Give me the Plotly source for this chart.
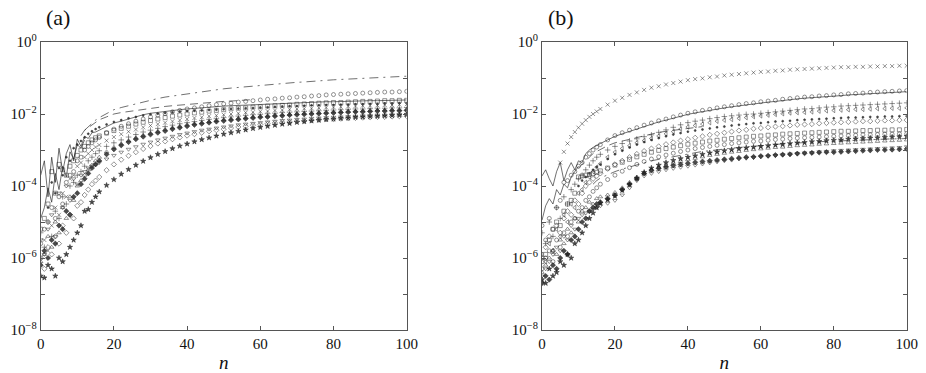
import plotly.graph_objects as go

# n grid: every step up to 15, then every second step
N = list(range(0, 16)) + list(range(16, 101, 2))

# values are log10 of the plotted quantity
# ---------- panel (a) ----------
a_dashdot = [None] * 12 + [-2.45, -2.35, -2.25, -2.17,
    -2.10, -1.99, -1.88,
    -1.82, -1.77, -1.71, -1.66, -1.60,
    -1.57, -1.53, -1.50, -1.47, -1.43,
    -1.40, -1.38, -1.35, -1.33, -1.30,
    -1.28, -1.26, -1.24, -1.22, -1.20,
    -1.18, -1.17, -1.15, -1.14, -1.12,
    -1.11, -1.09, -1.08, -1.06, -1.05,
    -1.04, -1.03, -1.02, -1.01, -1.00,
    -0.99, -0.98, -0.97, -0.96, -0.95]
a_dashed = [None] * 11 + [-2.60, -2.45, -2.38, -2.30, -2.22,
    -2.16, -2.08, -2.00,
    -1.96, -1.93, -1.89, -1.86, -1.83,
    -1.81, -1.79, -1.77, -1.75, -1.73,
    -1.71, -1.70, -1.68, -1.67, -1.65,
    -1.64, -1.63, -1.61, -1.60] + [None] * 21
a_solid1 = [-3.70, -3.30, -4.30, -3.20, -3.90, -2.95, -3.60, -3.10, -2.85, -3.30, -2.70, -2.90, -2.62, -2.68, -2.52, -2.50,
    -2.45, -2.35, -2.25,
    -2.20, -2.14, -2.07, -2.02, -1.98,
    -1.95, -1.93, -1.90, -1.88, -1.86,
    -1.84, -1.83, -1.81, -1.80, -1.78,
    -1.77, -1.76, -1.75, -1.74, -1.73,
    -1.72, -1.71, -1.70, -1.70, -1.69,
    -1.68, -1.68, -1.67, -1.66, -1.66,
    -1.65, -1.65, -1.64, -1.64, -1.63,
    -1.63, -1.62, -1.62, -1.61, -1.61]
a_solid2 = [-4.90, -4.60, -4.05, -4.45, -3.65, -4.10, -3.45, -3.75, -3.05, -3.25, -2.85, -2.95, -2.72] + [None] * 46
a_circ = [-5.60, -5.20, -5.00, -4.60, -4.90, -4.30, -4.50, -3.90, -3.70, -3.60, -3.30, -3.20, -3.00, -2.90, -2.80, -2.72,
    -2.65, -2.52, -2.42,
    -2.34, -2.27, -2.20, -2.14, -2.08,
    -2.03, -1.99, -1.94, -1.90, -1.86,
    -1.83, -1.80, -1.77, -1.74, -1.72,
    -1.70, -1.67, -1.65, -1.63, -1.61,
    -1.59, -1.58, -1.56, -1.55, -1.53,
    -1.52, -1.50, -1.49, -1.47, -1.46,
    -1.45, -1.44, -1.43, -1.42, -1.41,
    -1.40, -1.39, -1.39, -1.38, -1.37]
a_sq = [-5.20, -4.90, -4.50, -3.60, -4.20, -3.40, -3.55, -3.70, -3.45, -3.30, -3.15, -3.00, -2.90, -2.80, -2.72, -2.66,
    -2.61, -2.53, -2.46,
    -2.40, -2.34, -2.28, -2.23, -2.18,
    -2.14, -2.10, -2.06, -2.03, -2.00,
    -1.97, -1.95, -1.92, -1.90, -1.88,
    -1.86, -1.84, -1.83, -1.81, -1.80,
    -1.78, -1.77, -1.76, -1.75, -1.73,
    -1.72, -1.71, -1.70, -1.69, -1.68,
    -1.68, -1.67, -1.66, -1.65, -1.65,
    -1.64, -1.63, -1.63, -1.62, -1.62]
a_dot = [None, None, -4.60, -3.90, -4.20, -3.50, -3.70, -3.20, -3.30, -2.95, -2.85, -2.75, -2.65, -2.55, -2.48, -2.42,
    -2.37, -2.29, -2.22,
    -2.17, -2.12, -2.08, -2.04, -2.01,
    -1.99, -1.97, -1.95, -1.93, -1.92,
    -1.91, -1.90, -1.89, -1.88, -1.87,
    -1.86, -1.85, -1.84, -1.83, -1.82,
    -1.81, -1.80, -1.79, -1.78, -1.78,
    -1.77, -1.76, -1.76, -1.75, -1.75,
    -1.74, -1.74, -1.73, -1.73, -1.72,
    -1.72, -1.71, -1.71, -1.70, -1.70]
a_x = [-6.00, -5.50, -5.80, -5.10, -4.60, -4.80, -4.20, -4.30, -3.80, -3.70, -3.45, -3.35, -3.20, -3.10, -3.00, -2.92,
    -2.86, -2.74, -2.64,
    -2.56, -2.49, -2.43, -2.37, -2.32,
    -2.28, -2.24, -2.20, -2.17, -2.14,
    -2.11, -2.09, -2.06, -2.04, -2.02,
    -2.00, -1.98, -1.96, -1.95, -1.93,
    -1.92, -1.90, -1.89, -1.87, -1.86,
    -1.85, -1.84, -1.83, -1.82, -1.81,
    -1.80, -1.79, -1.78, -1.77, -1.77,
    -1.76, -1.75, -1.75, -1.74, -1.73]
a_plus = [-5.30, -5.70, -5.00, -5.40, -4.70, -4.90, -4.30, -4.50, -4.00, -3.90, -3.70, -3.60, -3.45, -3.30, -3.20, -3.10,
    -3.02, -2.90, -2.80,
    -2.72, -2.64, -2.57, -2.50, -2.45,
    -2.40, -2.35, -2.31, -2.27, -2.24,
    -2.21, -2.18, -2.15, -2.13, -2.10,
    -2.08, -2.06, -2.04, -2.02, -2.01,
    -1.99, -1.98, -1.96, -1.95, -1.94,
    -1.93, -1.92, -1.91, -1.90, -1.89,
    -1.88, -1.87, -1.86, -1.86, -1.85,
    -1.84, -1.84, -1.83, -1.83, -1.82]
a_tri = [-6.10, -5.90, -5.40, -5.70, -5.00, -5.30, -4.60, -4.90, -4.30, -4.40, -4.00, -3.85, -3.70, -3.55, -3.42, -3.30,
    -3.20, -3.05, -2.93,
    -2.83, -2.74, -2.66, -2.59, -2.53,
    -2.48, -2.43, -2.38, -2.34, -2.30,
    -2.27, -2.24, -2.21, -2.18, -2.16,
    -2.14, -2.12, -2.10, -2.08, -2.06,
    -2.05, -2.03, -2.02, -2.01, -1.99,
    -1.98, -1.97, -1.96, -1.95, -1.94,
    -1.93, -1.92, -1.92, -1.91, -1.90,
    -1.89, -1.89, -1.88, -1.88, -1.87]
a_fdia = [-6.20, -5.80, -6.00, -5.50, -5.60, -5.10, -5.20, -4.70, -4.80, -4.30, -4.20, -3.95, -3.80, -3.65, -3.50, -3.40,
    -3.30, -3.12, -2.98,
    -2.87, -2.78, -2.70, -2.63, -2.57,
    -2.52, -2.47, -2.42, -2.38, -2.34,
    -2.30, -2.27, -2.24, -2.21, -2.19,
    -2.17, -2.15, -2.13, -2.11, -2.09,
    -2.08, -2.06, -2.05, -2.03, -2.02,
    -2.01, -2.00, -1.99, -1.98, -1.97,
    -1.96, -1.95, -1.94, -1.94, -1.93,
    -1.92, -1.92, -1.91, -1.91, -1.90]
a_dia = [-6.00, -6.30, -5.70, -5.90, -5.40, -5.60, -5.10, -5.30, -4.80, -4.90, -4.55, -4.45, -4.25, -4.10, -3.95, -3.85,
    -3.75, -3.56, -3.40,
    -3.27, -3.16, -3.06, -2.97, -2.89,
    -2.82, -2.76, -2.70, -2.65, -2.60,
    -2.56, -2.52, -2.48, -2.45, -2.42,
    -2.39, -2.36, -2.34, -2.31, -2.29,
    -2.27, -2.25, -2.23, -2.22, -2.20,
    -2.19, -2.17, -2.16, -2.15, -2.14,
    -2.13, -2.12, -2.11, -2.10, -2.09,
    -2.08, -2.08, -2.07, -2.06, -2.06]
a_star = [-6.50, -6.55, -6.20, -6.30, -6.50, -6.00, -6.10, -5.90, -5.70, -5.50, -5.30, -5.10, -4.70, -4.65, -4.45, -4.30,
    -4.16, -3.98, -3.82,
    -3.67, -3.54, -3.42, -3.31, -3.21,
    -3.12, -3.04, -2.96, -2.89, -2.83,
    -2.77, -2.71, -2.66, -2.61, -2.56,
    -2.52, -2.48, -2.44, -2.40, -2.37,
    -2.34, -2.31, -2.28, -2.26, -2.23,
    -2.21, -2.19, -2.17, -2.15, -2.14,
    -2.12, -2.11, -2.09, -2.08, -2.07,
    -2.06, -2.05, -2.04, -2.03, -2.02]
a_tdown = [-5.50, -5.90, -5.20, -4.80, -5.40, -4.20, -4.60, -4.00, -4.40, -3.80, -3.95, -3.70, -3.60, -3.50, -3.45, -3.40,
    -3.35, -3.25, -3.15,
    -3.06, -2.98, -2.91, -2.84, -2.78,
    -2.72, -2.67, -2.62, -2.57, -2.53,
    -2.49, -2.45, -2.42, -2.39, -2.36,
    -2.33, -2.30, -2.28, -2.26, -2.24,
    -2.22, -2.20, -2.18, -2.17, -2.15,
    -2.14, -2.12, -2.11, -2.10, -2.09,
    -2.08, -2.07, -2.06, -2.05, -2.04,
    -2.03, -2.03, -2.02, -2.01, -2.01]

# ---------- panel (b) ----------
b_x = [None] * 5 + [-3.35, -3.05, -2.82, -2.64, -2.50, -2.38, -2.27, -2.17, -2.08, -2.00, -1.93,
    -1.86, -1.74, -1.63,
    -1.55, -1.47, -1.40, -1.33, -1.27,
    -1.23, -1.18, -1.14, -1.10, -1.06,
    -1.03, -1.01, -0.98, -0.96, -0.93,
    -0.91, -0.89, -0.87, -0.85, -0.83,
    -0.82, -0.80, -0.79, -0.77, -0.76,
    -0.75, -0.74, -0.73, -0.72, -0.71,
    -0.70, -0.70, -0.69, -0.69, -0.68,
    -0.68, -0.67, -0.67, -0.66, -0.66]
b_circ = [-5.10, -5.50, -4.90, -5.20, -4.60, -4.40, -3.90, -3.85, -3.70, -3.60, -3.45, -3.35, -3.20, -3.10, -3.00, -2.92,
    -2.85, -2.72, -2.60,
    -2.52, -2.45, -2.38, -2.31, -2.25,
    -2.19, -2.14, -2.08, -2.03, -1.98,
    -1.94, -1.90, -1.87, -1.83, -1.80,
    -1.77, -1.74, -1.71, -1.69, -1.66,
    -1.64, -1.62, -1.59, -1.57, -1.55,
    -1.53, -1.52, -1.50, -1.49, -1.47,
    -1.46, -1.44, -1.43, -1.42, -1.40,
    -1.39, -1.38, -1.37, -1.36, -1.35]
b_solid1 = [-3.72, -3.55, -3.80, -4.00, -3.60, -3.35, -3.85, -3.55, -3.35, -3.55, -3.30, -3.35, -3.10, -3.00, -2.93, -2.87,
    -2.82, -2.72, -2.62,
    -2.55, -2.48, -2.41, -2.34, -2.28,
    -2.22, -2.17, -2.11, -2.06, -2.01,
    -1.97, -1.93, -1.90, -1.86, -1.83,
    -1.80, -1.77, -1.74, -1.72, -1.69,
    -1.67, -1.65, -1.62, -1.60, -1.58,
    -1.56, -1.55, -1.53, -1.52, -1.50,
    -1.49, -1.47, -1.46, -1.45, -1.43,
    -1.42, -1.41, -1.40, -1.39, -1.38]
b_solid2 = [-4.95, -4.55, -4.35, -4.50, -4.10, -4.25, -3.95, -4.05, -3.75, -3.60, -3.45] + [None] * 48
b_dashed = [None] * 10 + [-3.50, -3.40, -3.30, -3.20, -3.10, -3.04,
    -2.98, -2.88, -2.80,
    -2.75, -2.70, -2.65, -2.60, -2.55,
    -2.51, -2.48, -2.45, -2.42, -2.40,
    -2.37, -2.35] + [None] * 28
b_plus = [-5.30, -5.60, -5.00, -5.40, -4.60, -4.90, -4.30, -4.50, -4.10, -3.95, -3.80, -3.70, -3.55, -3.42, -3.30, -3.20,
    -3.12, -3.00, -2.90,
    -2.82, -2.75, -2.69, -2.63, -2.58,
    -2.51, -2.44, -2.37, -2.30, -2.24,
    -2.20, -2.17, -2.13, -2.10, -2.07,
    -2.05, -2.03, -2.01, -2.00, -1.98,
    -1.96, -1.94, -1.92, -1.90, -1.88,
    -1.86, -1.85, -1.83, -1.81, -1.80,
    -1.78, -1.77, -1.76, -1.75, -1.74,
    -1.73, -1.72, -1.71, -1.70, -1.69]
b_tleft = [-5.90, -6.10, -5.60, -5.80, -5.20, -5.40, -4.80, -5.00, -4.50, -4.60, -4.20, -4.10, -3.90, -3.75, -3.60, -3.48,
    -3.38, -3.20, -3.06,
    -2.96, -2.88, -2.80, -2.74, -2.68,
    -2.61, -2.55, -2.49, -2.42, -2.36,
    -2.32, -2.28, -2.24, -2.20, -2.17,
    -2.15, -2.12, -2.10, -2.07, -2.05,
    -2.03, -2.01, -1.99, -1.97, -1.96,
    -1.95, -1.94, -1.92, -1.91, -1.90,
    -1.89, -1.88, -1.87, -1.87, -1.86,
    -1.85, -1.85, -1.84, -1.84, -1.83]
b_dot = [None] * 10 + [-4.00, -3.85, -3.75, -3.65, -3.55, -3.47,
    -3.40, -3.25, -3.12,
    -3.02, -2.93, -2.85, -2.78, -2.72,
    -2.67, -2.62, -2.57, -2.53, -2.49,
    -2.46, -2.43, -2.40, -2.37, -2.35,
    -2.32, -2.30, -2.28, -2.26, -2.25,
    -2.23, -2.21, -2.20, -2.19, -2.17,
    -2.16, -2.15, -2.14, -2.13, -2.12,
    -2.11, -2.10, -2.10, -2.09, -2.08,
    -2.08, -2.07, -2.07, -2.06, -2.06]
b_dia = [-6.00, -5.70, -5.40, -5.80, -5.10, -5.30, -4.90, -4.70, -4.80, -4.40, -4.50, -4.20, -4.00, -3.90, -3.80, -3.72,
    -3.65, -3.52, -3.40,
    -3.30, -3.20, -3.11, -3.03, -2.96,
    -2.90, -2.84, -2.79, -2.74, -2.70,
    -2.66, -2.62, -2.58, -2.55, -2.52,
    -2.49, -2.46, -2.44, -2.41, -2.39,
    -2.37, -2.35, -2.34, -2.32, -2.30,
    -2.29, -2.28, -2.26, -2.25, -2.24,
    -2.23, -2.22, -2.21, -2.20, -2.20,
    -2.19, -2.18, -2.18, -2.17, -2.17]
b_sq = [-6.10, -5.90, -5.50, -5.20, -5.00, -5.10, -4.70, -4.50, -4.40, -4.20, -3.75, -3.72, -3.70, -3.68, -3.65, -3.62,
    -3.58, -3.50, -3.42,
    -3.34, -3.26, -3.19, -3.12, -3.06,
    -3.01, -2.96, -2.92, -2.88, -2.84,
    -2.81, -2.78, -2.75, -2.73, -2.70,
    -2.68, -2.66, -2.64, -2.62, -2.61,
    -2.59, -2.58, -2.56, -2.55, -2.54,
    -2.53, -2.52, -2.51, -2.50, -2.49,
    -2.48, -2.48, -2.47, -2.46, -2.46,
    -2.45, -2.45, -2.44, -2.44, -2.43]
b_dashdot = [None] * 14 + [-3.95, -3.85,
    -3.78, -3.68, -3.60,
    -3.53, -3.47, -3.41, -3.35, -3.30,
    -3.26, -3.22, -3.18, -3.14, -3.10,
    -3.07, -3.04, -3.02, -2.99, -2.97,
    -2.95, -2.93, -2.91, -2.90, -2.88,
    -2.86, -2.85, -2.83, -2.82, -2.80,
    -2.79, -2.78, -2.77, -2.76, -2.75,
    -2.74, -2.73, -2.73, -2.72, -2.71,
    -2.70, -2.70, -2.69, -2.69, -2.68]
b_circ2 = [-6.30, -6.00, -5.80, -6.10, -5.50, -5.70, -5.30, -5.40, -5.00, -4.90, -4.70, -4.60, -4.40, -4.30, -4.15, -4.05,
    -3.95, -3.82, -3.70,
    -3.59, -3.49, -3.40, -3.32, -3.25,
    -3.19, -3.14, -3.09, -3.04, -3.00,
    -2.96, -2.93, -2.90, -2.87, -2.85,
    -2.82, -2.80, -2.78, -2.76, -2.75,
    -2.73, -2.71, -2.70, -2.68, -2.67,
    -2.66, -2.65, -2.64, -2.63, -2.62,
    -2.61, -2.60, -2.59, -2.58, -2.58,
    -2.57, -2.56, -2.56, -2.55, -2.55]
b_star = [-6.60, -6.70, -6.30, -6.50, -6.40, -6.10, -6.20, -5.90, -6.00, -5.60, -5.50, -5.30, -5.10, -4.90, -4.75, -4.60,
    -4.48, -4.38, -4.28,
    -4.12, -3.96, -3.78, -3.62, -3.50,
    -3.42, -3.35, -3.29, -3.24, -3.20,
    -3.16, -3.12, -3.08, -3.05, -3.02,
    -2.99, -2.96, -2.94, -2.92, -2.90,
    -2.88, -2.86, -2.84, -2.82, -2.80,
    -2.79, -2.77, -2.76, -2.74, -2.73,
    -2.72, -2.70, -2.69, -2.68, -2.67,
    -2.66, -2.65, -2.64, -2.63, -2.62]
b_tri = [-6.40, -6.20, -6.00, -5.80, -5.90, -5.50, -5.60, -5.20, -5.30, -4.90, -5.00, -4.70, -4.60, -4.45, -4.50, -4.35,
    -4.30, -4.25, -4.18,
    -4.05, -3.90, -3.75, -3.64, -3.56,
    -3.49, -3.43, -3.37, -3.32, -3.27,
    -3.23, -3.19, -3.15, -3.12, -3.09,
    -3.06, -3.04, -3.01, -2.99, -2.97,
    -2.95, -2.93, -2.92, -2.90, -2.88,
    -2.87, -2.86, -2.84, -2.83, -2.82,
    -2.81, -2.80, -2.79, -2.78, -2.77,
    -2.76, -2.75, -2.74, -2.73, -2.72]
b_tdown = [-6.50, -6.30, -6.10, -5.90, -5.70, -5.80, -5.40, -5.50, -5.10, -5.20, -4.90, -4.80, -4.75, -4.70, -4.65, -4.60,
    -4.55, -4.48, -4.40,
    -4.25, -4.05, -3.85, -3.72, -3.65,
    -3.60, -3.55, -3.51, -3.48, -3.45,
    -3.42, -3.39, -3.36, -3.33, -3.30,
    -3.28, -3.25, -3.23, -3.21, -3.19,
    -3.17, -3.15, -3.13, -3.11, -3.10,
    -3.08, -3.07, -3.05, -3.04, -3.02,
    -3.01, -3.00, -2.99, -2.98, -2.97,
    -2.96, -2.95, -2.94, -2.93, -2.91]
b_fdia = [-6.70, -6.50, -6.60, -6.20, -6.30, -6.00, -5.80, -5.90, -5.50, -5.40, -5.20, -5.00, -4.90, -4.70, -4.60, -4.50,
    -4.45, -4.35, -4.25,
    -4.10, -3.95, -3.80, -3.65, -3.56,
    -3.51, -3.47, -3.43, -3.40, -3.37,
    -3.34, -3.32, -3.30, -3.28, -3.26,
    -3.24, -3.22, -3.20, -3.19, -3.17,
    -3.16, -3.14, -3.13, -3.12, -3.10,
    -3.09, -3.08, -3.07, -3.06, -3.06,
    -3.05, -3.04, -3.03, -3.02, -3.01,
    -3.00, -3.00, -2.99, -2.98, -2.97]

# tick labels
y_exps = [0, -1, -2, -3, -4, -5, -6, -7, -8]
y_text = ["10<sup>%s</sup>" % str(e).replace("-", "\u2212") if e % 2 == 0 else "" for e in y_exps]
x_ticks = [0, 20, 40, 60, 80, 100]

INK = "rgba(30,30,30,0.8)"
SERIF = "Liberation Serif"

# (values, panel, kind, symbol/dash, size)
series = [
    (a_dashdot, "a", "line", "9px,5px,2px,5px", 0),
    (a_dashed, "a", "line", "8px,5px", 0),
    (a_solid1, "a", "line", "solid", 0),
    (a_solid2, "a", "line", "solid", 0),
    (a_circ, "a", "mark", "circle-open", 4),
    (a_sq, "a", "mark", "square-open", 4),
    (a_dot, "a", "mark", "circle", 2),
    (a_x, "a", "mark", "x-thin-open", 4),
    (a_plus, "a", "mark", "cross-thin-open", 4),
    (a_tri, "a", "mark", "triangle-up-open", 4),
    (a_fdia, "a", "mark", "diamond", 4),
    (a_dia, "a", "mark", "diamond-open", 4),
    (a_star, "a", "mark", "star", 4),
    (a_tdown, "a", "mark", "triangle-down-open", 4),
    (b_x, "b", "mark", "x-thin-open", 4),
    (b_circ, "b", "mark", "circle-open", 4),
    (b_solid1, "b", "line", "solid", 0),
    (b_solid2, "b", "line", "solid", 0),
    (b_dashed, "b", "line", "8px,5px", 0),
    (b_plus, "b", "mark", "cross-thin-open", 4),
    (b_tleft, "b", "mark", "triangle-left-open", 4),
    (b_dot, "b", "mark", "circle", 2),
    (b_dia, "b", "mark", "diamond-open", 4),
    (b_sq, "b", "mark", "square-open", 4),
    (b_dashdot, "b", "line", "9px,5px,2px,5px", 0),
    (b_circ2, "b", "mark", "circle-open", 4),
    (b_star, "b", "mark", "star", 4),
    (b_tri, "b", "mark", "triangle-up-open", 4),
    (b_tdown, "b", "mark", "triangle-down-open", 4),
    (b_fdia, "b", "mark", "diamond", 4),
]

fig = go.Figure()
for vals, panel, kind, sty, size in series:
    assert len(vals) == len(N), (len(vals), sty)
    y = [10 ** v if v is not None else None for v in vals]
    ax = dict(xaxis="x", yaxis="y") if panel == "a" else dict(xaxis="x2", yaxis="y2")
    if kind == "line":
        fig.add_trace(go.Scatter(x=N, y=y, mode="lines", connectgaps=False,
                                 line=dict(color=INK, width=0.8, dash=sty), **ax))
    else:
        fig.add_trace(go.Scatter(x=N, y=y, mode="markers",
                                 marker=dict(symbol=sty, size=size, color=INK,
                                             line=dict(color=INK, width=0.6)), **ax))

font = dict(family=SERIF, size=15, color="#111")
xcommon = dict(range=[0, 100], tickvals=x_ticks, ticks="inside", ticklen=4, mirror="ticks",
               showline=True, linecolor="#555", linewidth=1, tickcolor="#555",
               showgrid=False, zeroline=False, tickfont=font, automargin=False,
               title=dict(text="<i>n</i>", font=dict(family=SERIF, size=19, color="#111"), standoff=4))
ycommon = dict(type="log", range=[-8, 0], tickvals=[10 ** e for e in y_exps], ticktext=y_text,
               ticks="inside", ticklen=4, mirror="ticks", showline=True, linecolor="#555",
               linewidth=1, tickcolor="#555", showgrid=False, zeroline=False, tickfont=font,
               automargin=False)

fig.update_layout(
    template="none",
    width=926, height=373, showlegend=False,
    paper_bgcolor="white", plot_bgcolor="white",
    margin=dict(l=0, r=0, t=0, b=0, autoexpand=False),
    xaxis=dict(domain=[40.7 / 926, 406.7 / 926], anchor="y", **xcommon),
    yaxis=dict(domain=[1 - 330 / 373, 1 - 42 / 373], anchor="x", **ycommon),
    xaxis2=dict(domain=[542 / 926, 906.7 / 926], anchor="y2", **xcommon),
    yaxis2=dict(domain=[1 - 330 / 373, 1 - 42 / 373], anchor="x2", **ycommon),
    annotations=[
        dict(text="(a)", x=44 / 926, y=1 - 17 / 373, xref="paper", yref="paper", showarrow=False,
             font=dict(family=SERIF, size=22, color="#111"), xanchor="left", yanchor="middle"),
        dict(text="(b)", x=546 / 926, y=1 - 17 / 373, xref="paper", yref="paper", showarrow=False,
             font=dict(family=SERIF, size=22, color="#111"), xanchor="left", yanchor="middle"),
    ],
)

# the page body has a default 8px margin; drop it so the figure fills the window
fig.write_html("out.html", config={"displayModeBar": False},
               post_script="document.body.style.margin='0px';")
